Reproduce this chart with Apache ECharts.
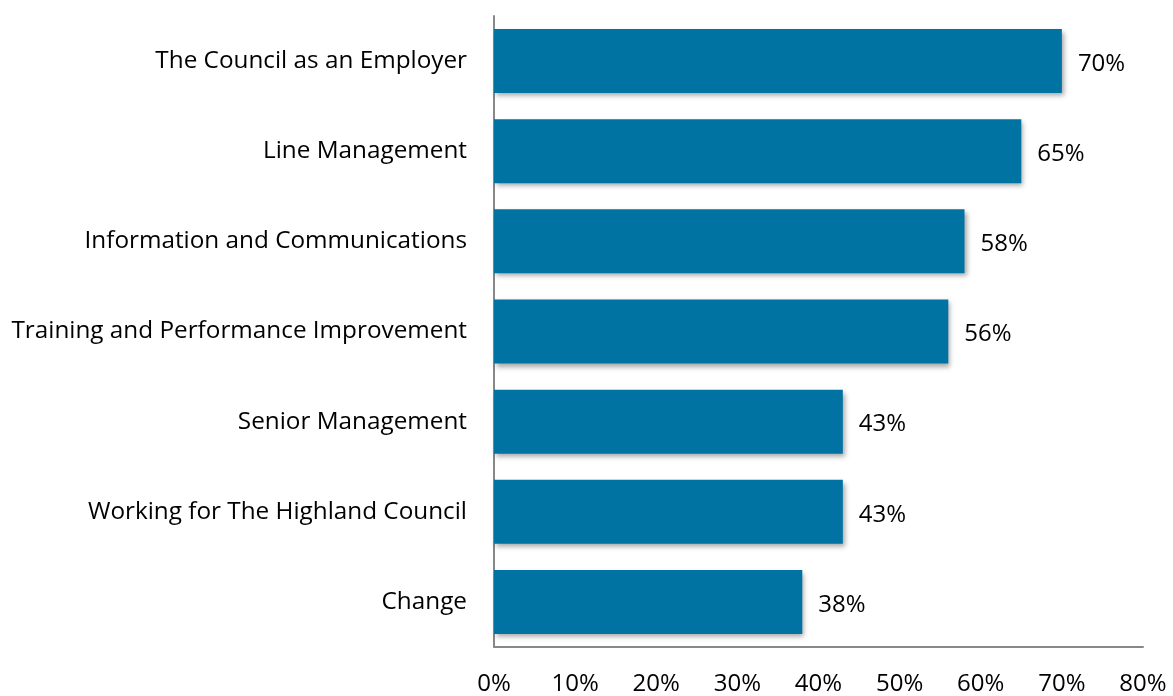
<!DOCTYPE html>
<html>
<head>
<meta charset="utf-8">
<script src="https://cdn.jsdelivr.net/npm/echarts@6/dist/echarts.min.js"></script>
<style>
  html, body { margin: 0; padding: 0; background: #fff; }
  #chart { width: 1173px; height: 696px; }
</style>
</head>
<body>
<div id="chart"></div>
<script>
// Survey themes, listed top to bottom
const categories = [
  'The Council as an Employer',
  'Line Management',
  'Information and Communications',
  'Training and Performance Improvement',
  'Senior Management',
  'Working for The Highland Council',
  'Change'
];
// Positive response share (%) for each theme
const values = [70, 65, 58, 56, 43, 43, 38];
// Value axis tick labels
const tickLabels = ['0%', '10%', '20%', '30%', '40%', '50%', '60%', '70%', '80%'];

const fontFamily = '"Open Sans", "Noto Sans", "Liberation Sans", sans-serif';
const chart = echarts.init(document.getElementById('chart'), null, { renderer: 'canvas' });

chart.setOption({
  animation: false,
  grid: { left: 494, right: 30, top: 16, bottom: 47, containLabel: false },
  xAxis: {
    type: 'value',
    min: 0,
    max: 80,
    interval: 10,
    axisLine: { show: true, lineStyle: { color: '#888', width: 2 } },
    axisTick: { show: false },
    splitLine: { show: false },
    axisLabel: {
      margin: 25,
      color: '#000',
      fontSize: 24,
      fontFamily: fontFamily,
      formatter: function (v) { return tickLabels[Math.round(v / 10)]; }
    }
  },
  yAxis: {
    type: 'category',
    data: categories.slice().reverse(),
    axisLine: { show: true, lineStyle: { color: '#888', width: 2 } },
    axisTick: { show: false },
    axisLabel: {
      margin: 27,
      color: '#000',
      fontSize: 24.3,
      fontFamily: fontFamily,
      offset: [0, 3]
    }
  },
  series: [{
    type: 'bar',
    data: values.slice().reverse(),
    barCategoryGap: '29%',
    itemStyle: {
      color: '#0073A2',
      shadowColor: 'rgba(0,0,0,0.35)',
      shadowBlur: 5,
      shadowOffsetX: 2,
      shadowOffsetY: 3
    },
    label: {
      show: true,
      position: 'right',
      distance: 16,
      color: '#000',
      fontSize: 24,
      fontFamily: fontFamily,
      offset: [0, 3],
      formatter: function (p) { return p.value + '%'; }
    }
  }]
});
</script>
</body>
</html>
